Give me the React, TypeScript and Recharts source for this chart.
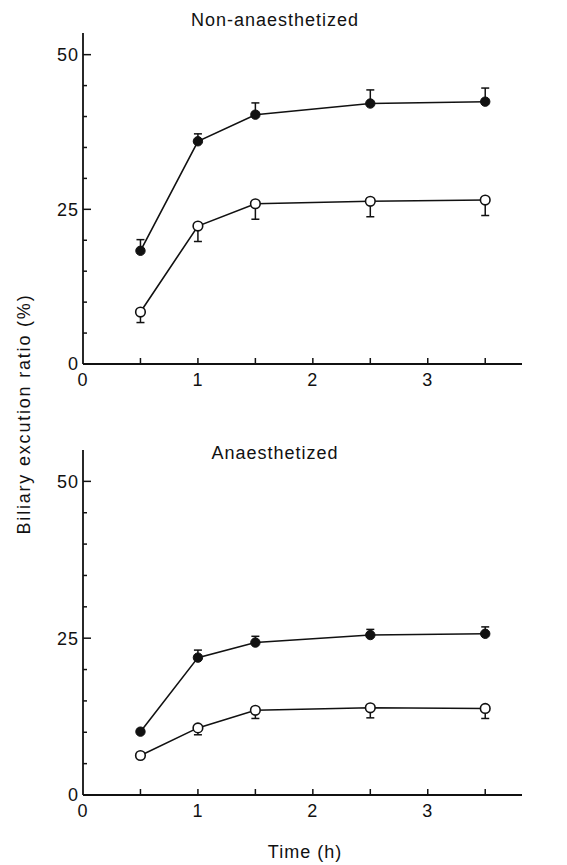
import { LineChart, Line, XAxis, YAxis, ErrorBar } from "recharts"

const ink = "#111"
const font = "'Liberation Sans', Arial, Helvetica, sans-serif"

// sampling times (h)
const times = [0.5, 1, 1.5, 2.5, 3.5]

// non-anaesthetized
const nonAnFilled = [18.3, 36.0, 40.3, 42.1, 42.4]
const nonAnFilledErr = [1.8, 1.2, 1.9, 2.2, 2.2]
const nonAnOpen = [8.4, 22.3, 25.9, 26.3, 26.5]
const nonAnOpenErr = [1.7, 2.5, 2.5, 2.5, 2.5]

// anaesthetized
const anFilled = [10.1, 21.9, 24.3, 25.5, 25.7]
const anFilledErr = [0, 1.2, 1.0, 0.9, 1.1]
const anOpen = [6.3, 10.7, 13.5, 13.9, 13.8]
const anOpenErr = [0, 1.1, 1.3, 1.6, 1.6]

const xTicks = [0, 0.5, 1, 1.5, 2, 2.5, 3, 3.5]
const yTicks = [0, 5, 10, 15, 20, 25, 30, 35, 40, 45, 50]

function buildRows(filled: number[], fErr: number[], open: number[], oErr: number[]) {
  // filled circles carry the upper error only, open circles the lower one
  return times.map((t, i) => ({
    t,
    filled: filled[i],
    filledErr: [0, fErr[i]],
    open: open[i],
    openErr: [oErr[i], 0],
  }))
}

const topRows = buildRows(nonAnFilled, nonAnFilledErr, nonAnOpen, nonAnOpenErr)
const bottomRows = buildRows(anFilled, anFilledErr, anOpen, anOpenErr)

function YTick(props: any) {
  const { x, y, payload } = props
  const major = payload.value % 25 === 0
  return (
    <g>
      <line x1={x} x2={x + (major ? 8 : 4)} y1={y} y2={y} stroke={ink} strokeWidth={1.5} />
      {major && (
        <text
          x={x - 4}
          y={y}
          dy="0.36em"
          textAnchor="end"
          fill={ink}
          fontSize={18}
          letterSpacing={1}
          fontFamily={font}
        >
          {payload.value}
        </text>
      )}
    </g>
  )
}

function XTick(props: any) {
  const { x, y, payload } = props
  const v = payload.value
  const labelled = Number.isInteger(v)
  return (
    <g>
      {v !== 0 && <line x1={x} x2={x} y1={y} y2={y - 6} stroke={ink} strokeWidth={1.5} />}
      {labelled && (
        <text
          x={x}
          y={y + 16}
          dy="0.36em"
          textAnchor="middle"
          fill={ink}
          fontSize={18}
          letterSpacing={1}
          fontFamily={font}
        >
          {v}
        </text>
      )}
    </g>
  )
}

function Panel({ rows, height, top, bottom, yMax }: any) {
  return (
    <LineChart width={567} height={height} data={rows} margin={{ top, right: 45, left: 43, bottom }}>
      <XAxis
        type="number"
        dataKey="t"
        domain={[0, 3.82]}
        ticks={xTicks}
        height={30}
        tickSize={0}
        tickMargin={0}
        tickLine={false}
        tick={<XTick />}
        stroke={ink}
        strokeWidth={1.8}
        interval={0}
        allowDataOverflow
      />
      <YAxis
        type="number"
        domain={[0, yMax]}
        ticks={yTicks}
        width={40}
        tickSize={0}
        tickMargin={0}
        tickLine={false}
        tick={<YTick />}
        stroke={ink}
        strokeWidth={1.8}
        interval={0}
        allowDataOverflow
      />
      <Line
        dataKey="filled"
        stroke={ink}
        strokeWidth={1.6}
        dot={{ r: 4.7, fill: ink, stroke: ink, strokeWidth: 1 }}
        isAnimationActive={false}
      >
        <ErrorBar dataKey="filledErr" direction="y" width={4} stroke={ink} strokeWidth={1.5} />
      </Line>
      <Line
        dataKey="open"
        stroke={ink}
        strokeWidth={1.6}
        dot={{ r: 4.8, fill: "#fff", stroke: ink, strokeWidth: 1.6 }}
        isAnimationActive={false}
      >
        <ErrorBar dataKey="openErr" direction="y" width={4} stroke={ink} strokeWidth={1.5} />
      </Line>
    </LineChart>
  )
}

const textStyle: any = {
  position: "absolute",
  fontFamily: font,
  fontSize: 18,
  letterSpacing: 1,
  color: ink,
  whiteSpace: "nowrap",
  lineHeight: 1,
}

export default function App() {
  return (
    <div
      style={{
        position: "absolute",
        left: 0,
        top: 0,
        width: 567,
        height: 865,
        background: "#fff",
        overflow: "hidden",
      }}
    >
      <div style={{ position: "absolute", left: 0, top: 0 }}>
        <Panel rows={topRows} height={400} top={33} bottom={6} yMax={53.5} />
      </div>
      <div style={{ position: "absolute", left: 0, top: 400 }}>
        <Panel rows={bottomRows} height={465} top={50} bottom={40} yMax={55} />
      </div>
      <div style={{ ...textStyle, left: 275, top: 20, transform: "translate(-50%, -50%)" }}>Non-anaesthetized</div>
      <div style={{ ...textStyle, left: 275, top: 453, transform: "translate(-50%, -50%)" }}>Anaesthetized</div>
      <div style={{ ...textStyle, left: 305, top: 852, transform: "translate(-50%, -50%)" }}>Time (h)</div>
      <div
        style={{
          ...textStyle,
          left: 24,
          top: 414,
          letterSpacing: 1.8,
          transform: "translate(-50%, -50%) rotate(-90deg)",
        }}
      >
        Biliary excution ratio (%)
      </div>
    </div>
  )
}
